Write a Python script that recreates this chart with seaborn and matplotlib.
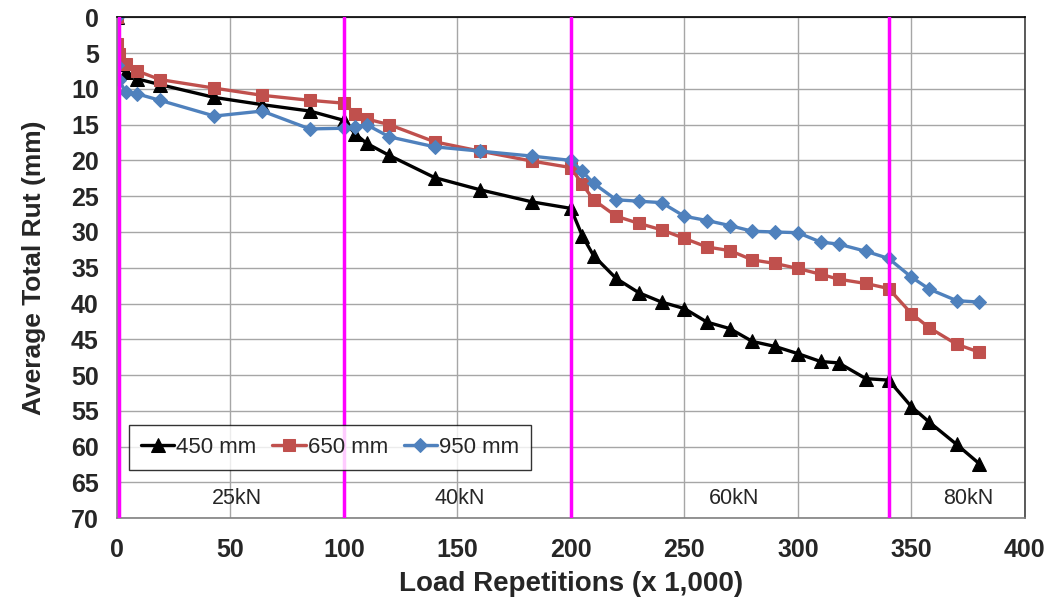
import matplotlib
matplotlib.use('Agg')
import matplotlib.pyplot as plt
import seaborn as sns

# load repetitions (x 1,000)
reps = [0, 0.2, 1, 4, 9, 19, 43, 64, 85, 100, 105, 110, 120, 140, 160, 183,
        200, 205, 210, 220, 230, 240, 250, 260, 270, 280, 290, 300, 310, 318,
        330, 340, 350, 358, 370, 380]

# average total rut (mm)
rut_450 = [0, 5.2, 6.5, 7.6, 8.6, 9.4, 11.2, 12.2, 13.1, 14.4, 16.3, 17.6, 19.3,
           22.4, 24.1, 25.8, 26.7, 30.5, 33.3, 36.5, 38.5, 39.8, 40.7, 42.6,
           43.5, 45.3, 46.0, 47.0, 48.1, 48.3, 50.5, 50.7, 54.4, 56.6, 59.7, 62.4]
rut_650 = [0, 3.7, 5.1, 6.5, 7.5, 8.7, 9.9, 10.9, 11.6, 12.0, 13.5, 14.2, 15.0,
           17.4, 18.7, 20.1, 21.0, 23.3, 25.5, 27.8, 28.8, 29.7, 30.9, 32.1,
           32.6, 33.9, 34.4, 35.1, 35.9, 36.6, 37.2, 37.9, 41.4, 43.4, 45.7, 46.8]
rut_950 = [0, 6.7, 8.8, 10.5, 10.7, 11.6, 13.8, 13.1, 15.6, 15.5, 15.3, 15.0, 16.7,
           18.1, 18.7, 19.4, 20.0, 21.5, 23.2, 25.5, 25.7, 25.9, 27.8, 28.4,
           29.1, 29.9, 30.0, 30.1, 31.4, 31.7, 32.7, 33.7, 36.3, 38.0, 39.6, 39.8]

# load change points and load stage labels
load_changes = [1, 100, 200, 340]
load_labels = ['25kN', '40kN', '60kN', '80kN']
load_label_x = [53, 151, 272, 375]

sns.set_style('white')
plt.rcParams['font.family'] = ['Liberation Sans', 'DejaVu Sans']

fig, ax = plt.subplots(figsize=(10.62, 5.97), dpi=100)
fig.subplots_adjust(left=0.110, right=0.965, top=0.971, bottom=0.132)

sns.lineplot(x=reps, y=rut_450, ax=ax, color='black', marker='^', markersize=10,
             markeredgecolor='black', linewidth=2.4, sort=False, label='450 mm')
sns.lineplot(x=reps, y=rut_650, ax=ax, color='#C0504D', marker='s', markersize=9,
             markeredgecolor='#C0504D', linewidth=2.4, sort=False, label='650 mm')
sns.lineplot(x=reps, y=rut_950, ax=ax, color='#4F81BD', marker='D', markersize=7,
             markeredgecolor='#4F81BD', linewidth=2.4, sort=False, label='950 mm')

for xc in load_changes:
    ax.axvline(xc, color='#FF00FF', linewidth=2.5, zorder=5)

for lx, lt in zip(load_label_x, load_labels):
    ax.text(lx, 67.3, lt, ha='center', va='center', fontsize=15.5)

ax.set_xlim(0, 400)
ax.set_ylim(70, 0)
ax.set_xticks(range(0, 401, 50))
ax.set_yticks(range(0, 71, 5))
ax.grid(True, color='#a6a6a6', linewidth=1)
ax.set_axisbelow(True)
ax.tick_params(axis='both', labelsize=18, length=5, color='#808080', direction='out')
ax.tick_params(axis='y', pad=8)
ax.tick_params(axis='x', pad=9)
for lab in ax.get_xticklabels() + ax.get_yticklabels():
    lab.set_fontweight('bold')

ax.set_xlabel('Load Repetitions (x 1,000)', fontsize=20, fontweight='bold', labelpad=7)
ax.set_ylabel('Average Total Rut (mm)', fontsize=19, fontweight='bold', labelpad=18)

ax.spines['top'].set_color('black')
ax.spines['right'].set_color('#404040')
ax.spines['left'].set_color('#808080')
ax.spines['bottom'].set_color('#808080')
for sp in ax.spines.values():
    sp.set_linewidth(1.2)

leg = ax.legend(loc='lower left', bbox_to_anchor=(0.013, 0.096), borderaxespad=0,
                ncol=3, fontsize=16, frameon=True, fancybox=False, edgecolor='black',
                handlelength=1.5, handletextpad=0.1, columnspacing=0.7, borderpad=0.55)
leg.get_frame().set_linewidth(1.0)
leg.set_zorder(10)

fig.savefig('out.png', dpi=100)
